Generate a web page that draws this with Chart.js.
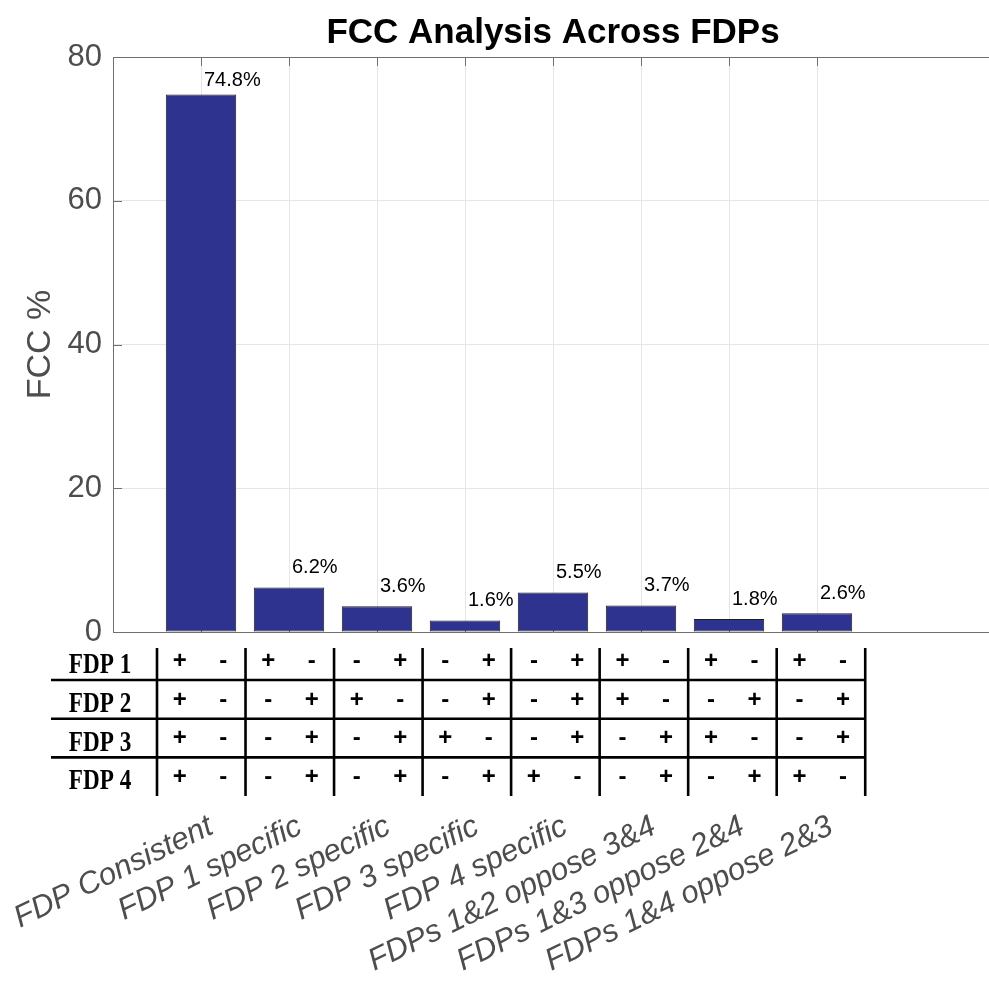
<!DOCTYPE html>
<html>
<head>
<meta charset="utf-8">
<title>FCC Analysis Across FDPs</title>
<script src="https://cdn.jsdelivr.net/npm/chart.js@4/dist/chart.umd.min.js"></script>
<style>
  html, body { margin: 0; padding: 0; overflow: hidden; background: #ffffff; }
  canvas { display: block; }
</style>
</head>
<body>
<canvas id="fcc" width="993" height="989"></canvas>
<script>
// Categories of FCC patterns and their share (%)
const categories = [
  'FDP Consistent', 'FDP 1 specific', 'FDP 2 specific', 'FDP 3 specific',
  'FDP 4 specific', 'FDPs 1&2 oppose 3&4', 'FDPs 1&3 oppose 2&4', 'FDPs 1&4 oppose 2&3'
];
const fccPercent = [74.8, 6.2, 3.6, 1.6, 5.5, 3.7, 1.8, 2.6];
const yTicks = [0, 20, 40, 60, 80];

// Sign pattern table under the axis: one row per FDP, one '+-' / '-+' pair per category
const fdpNames = ['FDP 1', 'FDP 2', 'FDP 3', 'FDP 4'];
const fdp1Signs = ['+-', '+-', '-+', '-+', '-+', '+-', '+-', '+-'];
const fdp2Signs = ['+-', '-+', '+-', '-+', '-+', '+-', '-+', '-+'];
const fdp3Signs = ['+-', '-+', '-+', '+-', '-+', '-+', '+-', '-+'];
const fdp4Signs = ['+-', '-+', '-+', '-+', '+-', '-+', '-+', '+-'];
const signRows = [fdp1Signs, fdp2Signs, fdp3Signs, fdp4Signs];

const positions = categories.map((_, i) => i + 1);

const SANS = "'Liberation Sans', Arial, Helvetica, sans-serif";
const SERIF = "'Liberation Serif', 'Times New Roman', serif";
const AXIS_GRAY = '#707070';
const TEXT_GRAY = '#4d4d4d';
const GRID_GRAY = '#e6e6e6';
const BAR_BLUE = '#2f3390';

// Box outline on top plus inward tick marks
const boxAndTicks = {
  id: 'boxAndTicks',
  beforeDatasetsDraw(chart) {
    const { ctx, chartArea: a, scales: { x, y } } = chart;
    const len = 9;
    ctx.save();
    ctx.strokeStyle = AXIS_GRAY;
    ctx.lineWidth = 1;
    ctx.beginPath();
    x.ticks.forEach(t => {
      const px = Math.round(x.getPixelForValue(t.value)) + 0.5;
      ctx.moveTo(px, a.top); ctx.lineTo(px, a.top + len);
      ctx.moveTo(px, a.bottom); ctx.lineTo(px, a.bottom - len);
    });
    y.ticks.forEach(t => {
      const py = Math.round(y.getPixelForValue(t.value)) + 0.5;
      ctx.moveTo(a.left, py); ctx.lineTo(a.left + len, py);
    });
    ctx.stroke();
    ctx.restore();
  },
  afterDraw(chart) {
    const { ctx, chartArea: a } = chart;
    ctx.save();
    ctx.strokeStyle = AXIS_GRAY;
    ctx.lineWidth = 1;
    ctx.beginPath();
    ctx.moveTo(a.left, Math.round(a.top) + 0.5);
    ctx.lineTo(a.right, Math.round(a.top) + 0.5);
    ctx.moveTo(Math.round(a.right) - 0.5, a.top);
    ctx.lineTo(Math.round(a.right) - 0.5, a.bottom);
    ctx.stroke();
    ctx.restore();
  }
};

// Percentage labels above each bar
const valueLabels = {
  id: 'valueLabels',
  afterDatasetsDraw(chart) {
    const { ctx } = chart;
    const meta = chart.getDatasetMeta(0);
    ctx.save();
    ctx.fillStyle = '#000000';
    ctx.font = `20px ${SANS}`;
    ctx.textAlign = 'left';
    ctx.textBaseline = 'middle';
    meta.data.forEach((bar, i) => {
      const lift = 20 - 7 * fccPercent[i] / 80;
      ctx.fillText(fccPercent[i].toFixed(1) + '%', bar.x + 3, bar.y - lift);
    });
    ctx.restore();
  }
};

// Sign table and rotated category names below the plot
const signTable = {
  id: 'signTable',
  afterDraw(chart) {
    const { ctx, chartArea: a, scales: { x } } = chart;
    const rowH = 38.7;
    const firstTop = a.bottom + 9.3;
    const lineTop = a.bottom + 16;
    const tableBottom = firstTop + rowH * 4;
    const colW = (x.getPixelForValue(2) - x.getPixelForValue(1)) * 1.006;
    const tableStart = x.getPixelForValue(0.5);
    const colEdge = k => tableStart + k * colW;
    const colCenter = k => tableStart + (k + 0.5) * colW;
    const tableLeft = 51;
    const tableRight = colEdge(categories.length);

    ctx.save();
    ctx.strokeStyle = '#000000';
    ctx.lineWidth = 2.6;
    ctx.beginPath();
    for (let r = 1; r < fdpNames.length; r++) {
      const yy = firstTop + rowH * r;
      ctx.moveTo(tableLeft, yy); ctx.lineTo(tableRight + 1.3, yy);
    }
    for (let k = 0; k <= categories.length; k++) {
      const xx = colEdge(k);
      ctx.moveTo(xx, lineTop); ctx.lineTo(xx, tableBottom);
    }
    ctx.stroke();

    // Row names
    fdpNames.forEach((name, r) => {
      const base = firstTop + rowH * r + 32;
      ctx.save();
      ctx.translate(100, base);
      ctx.scale(0.8, 1);
      ctx.font = `bold 29px ${SERIF}`;
      ctx.fillStyle = '#000000';
      ctx.textAlign = 'center';
      ctx.textBaseline = 'alphabetic';
      ctx.fillText(name, 0, 0);
      ctx.restore();
    });

    // Signs
    ctx.font = `bold 24px ${SANS}`;
    ctx.fillStyle = '#000000';
    ctx.textAlign = 'center';
    ctx.textBaseline = 'middle';
    signRows.forEach((row, r) => {
      const cy = firstTop + rowH * r + 20;
      row.forEach((pair, k) => {
        const c = colCenter(k);
        ctx.fillText(pair[0], c - 21.5, cy);
        ctx.fillText(pair[1], c + 22, cy);
      });
    });

    // Category names, rotated
    ctx.font = `italic 31px ${SANS}`;
    ctx.fillStyle = TEXT_GRAY;
    ctx.textAlign = 'right';
    ctx.textBaseline = 'middle';
    categories.forEach((name, k) => {
      ctx.save();
      ctx.translate(colCenter(k) + 10, 825);
      ctx.rotate(-26 * Math.PI / 180);
      ctx.fillText(name, 0, 0);
      ctx.restore();
    });
    ctx.restore();
  }
};

new Chart(document.getElementById('fcc'), {
  type: 'bar',
  data: {
    datasets: [{
      label: 'FCC %',
      data: positions.map((p, i) => ({ x: p, y: fccPercent[i] })),
      backgroundColor: BAR_BLUE,
      borderColor: '#1e1e1e',
      borderWidth: 1,
      borderSkipped: false,
      barPercentage: 0.8,
      categoryPercentage: 1.0
    }]
  },
  options: {
    responsive: false,
    animation: false,
    devicePixelRatio: 1,
    layout: { padding: 0 },
    plugins: {
      legend: { display: false },
      tooltip: { enabled: false },
      title: {
        display: true,
        text: 'FCC Analysis Across FDPs',
        fullSize: false,
        color: '#000000',
        font: { family: SANS, size: 35, weight: 'bold', lineHeight: 1.2 },
        padding: { top: 12, bottom: 3 }
      }
    },
    scales: {
      x: {
        type: 'linear',
        min: 0,
        max: 10,
        offset: false,
        grid: { color: GRID_GRAY, drawTicks: false, offset: false },
        border: { color: AXIS_GRAY, width: 1 },
        ticks: { display: false },
        afterBuildTicks: s => { s.ticks = positions.map(v => ({ value: v })); },
        afterFit: s => { s.height = 357; s.paddingLeft = 0; s.paddingRight = 0; }
      },
      y: {
        min: 0,
        max: 80,
        grid: { color: GRID_GRAY, drawTicks: false },
        border: { color: AXIS_GRAY, width: 1 },
        ticks: {
          padding: 11,
          color: TEXT_GRAY,
          font: { family: SANS, size: 31 }
        },
        afterBuildTicks: s => { s.ticks = yTicks.map(v => ({ value: v })); },
        title: {
          display: true,
          text: 'FCC %',
          color: TEXT_GRAY,
          font: { family: SANS, size: 34, lineHeight: 1.2 },
          padding: { top: 20, bottom: 0 }
        },
        afterFit: s => { s.width = 113; s.paddingTop = 0; s.paddingBottom = 0; }
      }
    }
  },
  plugins: [boxAndTicks, valueLabels, signTable]
});
</script>
</body>
</html>
